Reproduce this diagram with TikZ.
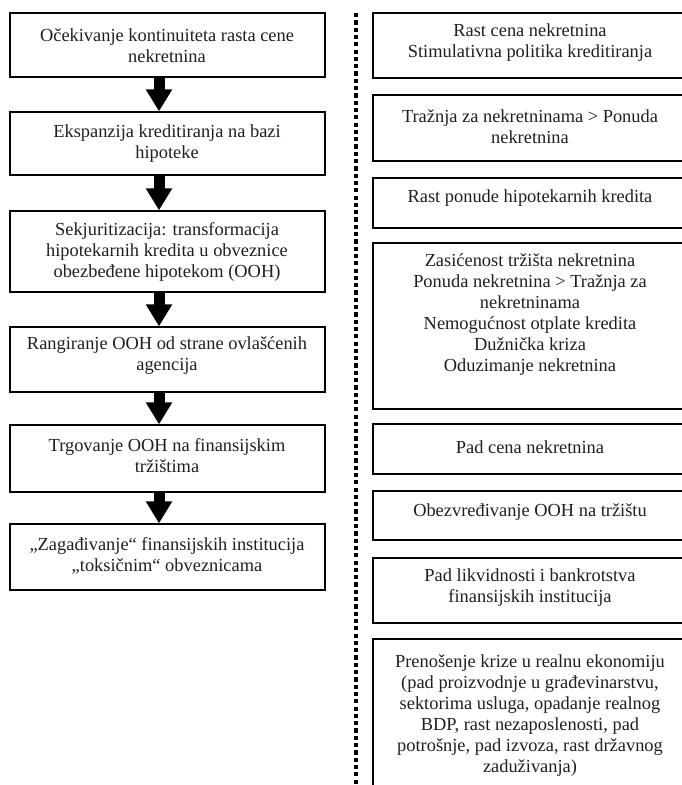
\documentclass[tikz,border=0pt]{standalone}
\usepackage{fontspec}
\setmainfont{Liberation Serif}
\usetikzlibrary{arrows.meta,calc}
\tikzset{
  box/.style={draw=black, line width=1.3pt, rectangle, inner sep=0pt},
  txt/.style={align=center, inner sep=0pt, font=\fontsize{18.4}{21}\selectfont, text=black!88},
  bigarrow/.style={line width=11pt, -{Triangle[width=25pt,length=22pt]}},
  dotline/.style={line width=4.2pt, dash pattern=on 4.2pt off 3.1pt}
}
\begin{document}
\begin{tikzpicture}[x=1pt,y=-1pt]
\useasboundingbox (0,0) rectangle (681,785);
% left column boxes
\node[box, minimum width=315pt, minimum height=64pt] (l1) at (167.5,45) {};
\node[box, minimum width=315pt, minimum height=63pt] (l2) at (167.5,143.5) {};
\node[box, minimum width=315pt, minimum height=81pt] (l3) at (167.5,251.5) {};
\node[box, minimum width=315pt, minimum height=65pt] (l4) at (167.5,359.5) {};
\node[box, minimum width=315pt, minimum height=67pt] (l5) at (167.5,458.5) {};
\node[box, minimum width=315pt, minimum height=66pt] (l6) at (167.5,557) {};
\node[txt] (t1) at (167,46) {Očekivanje kontinuiteta rasta cene\\nekretnina};
\node[txt] (t2) at (167,143.5) {Ekspanzija kreditiranja na bazi\\hipoteke};
\node[txt] (t3) at (167,252) {Sekjuritizacija: transformacija\\hipotekarnih kredita u obveznice\\obezbeđene hipotekom (OOH)};
\node[txt] (t4) at (167,356) {Rangiranje OOH od strane ovlašćenih\\agencija};
\node[txt] (t5) at (167,456) {Trgovanje OOH na finansijskim\\tržištima};
\node[txt] (t6) at (167,556) {„Zagađivanje“ finansijskih institucija\\„toksičnim“ obveznicama};
% arrows
\foreach \a/\b in {l1/l2,l2/l3,l3/l4,l4/l5,l5/l6}{
  \draw[bigarrow] ($(\a.south)+(-8.5,0)$) -- ($(\b.north)+(-8.5,0)$);
}
% dotted separator
\coordinate (d1) at (356,13);
\coordinate (d2) at (356,790);
\draw[dotline] (d1) -- (d2);
% right column boxes
\node[box, minimum width=315pt, minimum height=65pt] (r1) at (530.5,45.5) {};
\node[box, minimum width=315pt, minimum height=66pt] (r2) at (530.5,128) {};
\node[box, minimum width=315pt, minimum height=50pt] (r3) at (530.5,203) {};
\node[box, minimum width=315pt, minimum height=166pt] (r4) at (530.5,326) {};
\node[box, minimum width=315pt, minimum height=50pt] (r5) at (530.5,449) {};
\node[box, minimum width=315pt, minimum height=49pt] (r6) at (530.5,515.5) {};
\node[box, minimum width=315pt, minimum height=65pt] (r7) at (530.5,590.5) {};
\node[box, minimum width=315pt, minimum height=170pt] (r8) at (530.5,724) {};
\node[txt] (s1) at (530,42.5) {Rast cena nekretnina\\Stimulativna politika kreditiranja};
\node[txt] (s2) at (530,127) {Tražnja za nekretninama > Ponuda\\nekretnina};
\node[txt] (s3) at (530,198) {Rast ponude hipotekarnih kredita};
\node[txt] (s4) at (530,314.5) {Zasićenost tržišta nekretnina\\Ponuda nekretnina > Tražnja za\\nekretninama\\Nemogućnost otplate kredita\\Dužnička kriza\\Oduzimanje nekretnina};
\node[txt] (s5) at (530,447) {Pad cena nekretnina};
\node[txt] (s6) at (530,512) {Obezvređivanje OOH na tržištu};
\node[txt] (s7) at (530,588) {Pad likvidnosti i bankrotstva\\finansijskih institucija};
\node[txt] (s8) at (530,716) {Prenošenje krize u realnu ekonomiju\\(pad proizvodnje u građevinarstvu,\\sektorima usluga, opadanje realnog\\BDP, rast nezaposlenosti, pad\\potrošnje, pad izvoza, rast državnog\\zaduživanja)};
\end{tikzpicture}
\end{document}
